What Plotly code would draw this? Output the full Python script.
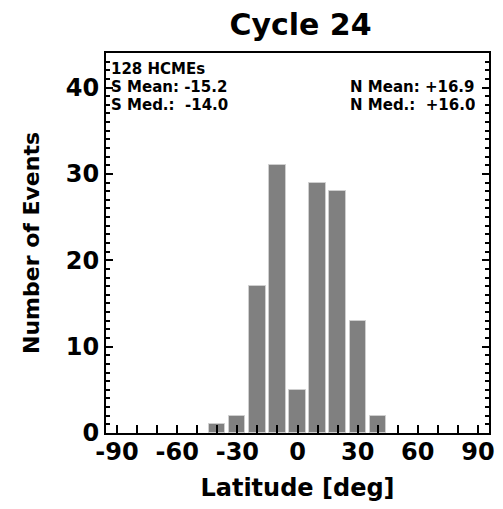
import plotly.graph_objects as go

# Data
lat_centers = [-40, -30, -20, -10, 0, 10, 20, 30, 40]
counts = [1, 2, 17, 31, 5, 29, 28, 13, 2]
x_tickvals = [-90, -60, -30, 0, 30, 60, 90]
x_ticktext = ["-90", "-60", "-30", "0", "30", "60", "90"]
y_tickvals = [0, 10, 20, 30, 40]

title_text = "Cycle 24"
n_events_text = "128 HCMEs"
s_rows = ["S Mean: -15.2", "S Med.:\u00a0 -14.0"]
n_rows = ["N Mean: +16.9", "N Med.:\u00a0 +16.0"]

FONT = "DejaVu Sans"
W, H = 503, 509
ml, mr, mt, mb = 106, 8, 53, 76
ph = H - mt - mb
pw = W - ml - mr

fig = go.Figure()
fig.add_trace(go.Bar(
    x=lat_centers, y=counts, width=8.1,
    marker=dict(color="#808080", line=dict(color="#cfcfcf", width=1)),
))

def py(ypx):
    return (H - mb - ypx) / ph

def px(xpx):
    return (xpx - ml) / pw

anns = []
anns.append(dict(text=n_events_text, x=px(110), y=py(68)))
rows_y = [86, 104]
for i in range(2):
    anns.append(dict(text=s_rows[i], x=px(110), y=py(rows_y[i])))
    anns.append(dict(text=n_rows[i], x=px(353), y=py(rows_y[i])))
for a in anns:
    a.update(xref="paper", yref="paper", xanchor="left", yanchor="middle",
             height=15, borderpad=0, valign="middle",
             showarrow=False, font=dict(family=FONT, size=15, color="black", weight="bold"))

fig.update_layout(
    width=W, height=H,
    margin=dict(l=ml, r=mr, t=mt, b=mb),
    paper_bgcolor="white", plot_bgcolor="white",
    showlegend=False,
    bargap=0,
    title=dict(text=title_text, x=(ml + pw / 2) / W, xanchor="center",
               y=1 - 24 / H, yanchor="middle",
               font=dict(family=FONT, size=30, color="black", weight="bold")),
    annotations=anns,
    font=dict(family=FONT, color="black"),
)
fig.update_xaxes(
    range=[-95.5, 95.5],
    tickvals=x_tickvals, ticktext=x_ticktext,
    ticks="inside", ticklen=8, tickwidth=2, tickcolor="black",
    minor=dict(dtick=10, tick0=0, ticks="inside", ticklen=8, tickwidth=2, tickcolor="black"),
    showline=True, linecolor="black", linewidth=2, mirror=True,
    showgrid=False, zeroline=False,
    tickfont=dict(family=FONT, size=24, color="black", weight="bold"),
    ticklabelstandoff=-4,
    title=dict(text="Latitude [deg]", standoff=14,
               font=dict(family=FONT, size=24, color="black", weight="bold")),
)
fig.update_yaxes(
    range=[0, 44],
    tickvals=y_tickvals,
    ticks="inside", ticklen=7, tickwidth=2, tickcolor="black",
    minor=dict(dtick=1, tick0=0, ticks="inside", ticklen=4, tickwidth=2, tickcolor="black"),
    showline=True, linecolor="black", linewidth=2, mirror="ticks",
    showgrid=False, zeroline=False,
    tickfont=dict(family=FONT, size=24, color="black", weight="bold"),
    ticklabelstandoff=0,
    title=dict(text="Number of Events", standoff=20,
               font=dict(family=FONT, size=22, color="black", weight="bold")),
)
fig.write_html("out.html")
